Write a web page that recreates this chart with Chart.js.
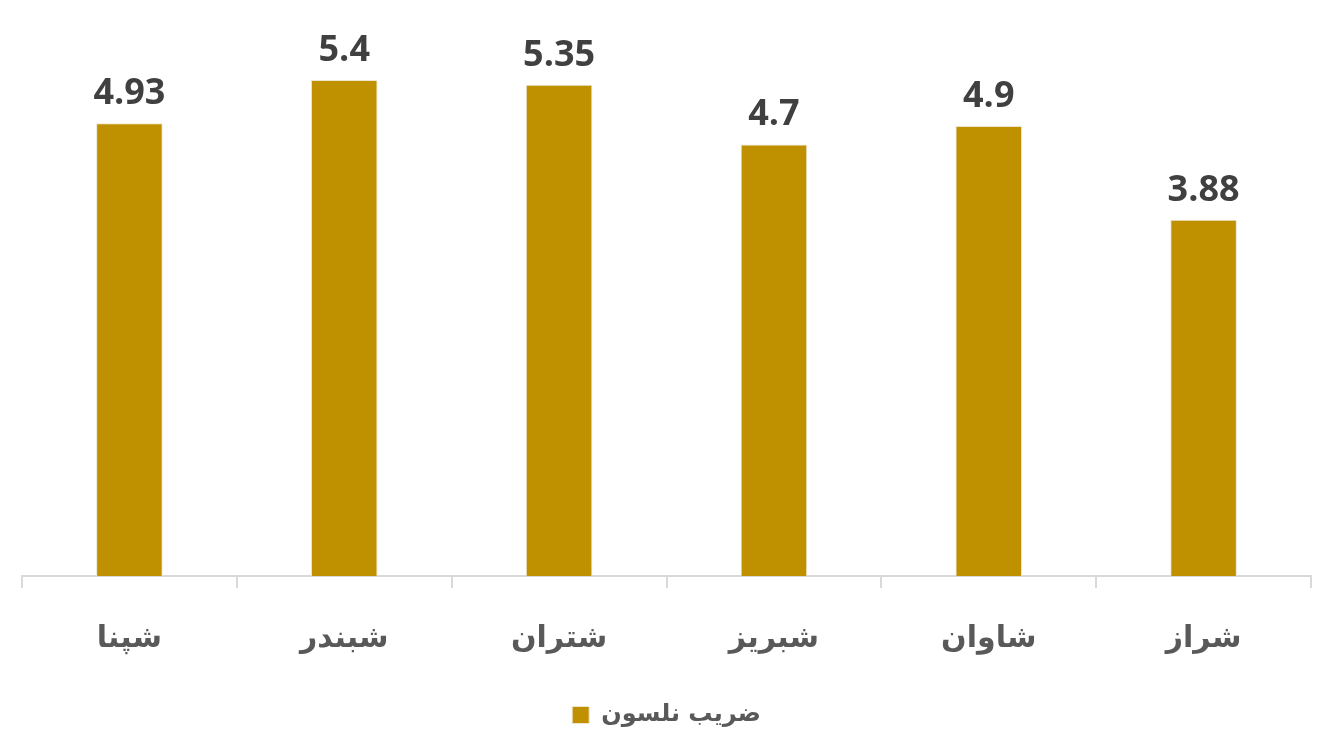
<!DOCTYPE html>
<html>
<head>
<meta charset="utf-8">
<script src="https://cdn.jsdelivr.net/npm/chart.js@4"></script>
<style>
  html, body { margin: 0; padding: 0; background: #fff; }
  #wrap { width: 1333px; height: 745px; }
</style>
</head>
<body>
<div id="wrap"><canvas id="nelsonChart"></canvas></div>
<script>
// chart data
const cities = ['شپنا', 'شبندر', 'شتران', 'شبریز', 'شاوان', 'شراز'];
const nelsonValues = [4.93, 5.4, 5.35, 4.7, 4.9, 3.88];
const seriesName = 'ضریب نلسون';

// draws the value above each bar
const valueLabels = {
    id: 'valueLabels',
    afterDatasetsDraw(chart) {
        const c = chart.ctx;
        const meta = chart.getDatasetMeta(0);
        c.save();
        c.font = 'bold 36px "Open Sans"';
        c.fillStyle = '#404040';
        c.textAlign = 'center';
        c.textBaseline = 'alphabetic';
        meta.data.forEach((bar, i) => {
            c.fillText(String(nelsonValues[i]), bar.x, bar.y - 19);
        });
        c.restore();
    }
};

const ctx = document.getElementById('nelsonChart').getContext('2d');
const nelsonChart = new Chart(ctx, {
    type: 'bar',
    data: {
        labels: cities,
        datasets: [{
            label: seriesName,
            data: nelsonValues,
            backgroundColor: '#BF9000',
            borderColor: '#EFE6D2',
            borderWidth: 1,
            barPercentage: 0.62,
            categoryPercentage: 0.5
        }]
    },
    options: {
        responsive: true,
        maintainAspectRatio: false,
        animation: false,
        layout: { padding: { top: 25, left: 22, right: 22, bottom: 8 } },
        scales: {
            x: {
                offset: true,
                grid: {
                    offset: true,
                    drawOnChartArea: false,
                    tickLength: 12,
                    color: '#D9D9D9',
                    lineWidth: 2
                },
                border: { color: '#D9D9D9', width: 2 },
                ticks: {
                    color: '#595959',
                    font: { family: '"DejaVu Sans"', size: 30, weight: 'bold' },
                    padding: 33
                },
                afterFit(scale) {
                    scale.height -= 1;
                }
            },
            y: {
                display: false,
                min: 0,
                max: 6
            }
        },
        plugins: {
            legend: {
                position: 'bottom',
                labels: {
                    color: '#595959',
                    font: { family: '"DejaVu Sans"', size: 24, weight: 'bold' },
                    boxWidth: 17,
                    boxHeight: 17,
                    padding: 14
                }
            },
            tooltip: { enabled: false }
        }
    },
    plugins: [valueLabels]
});
</script>
</body>
</html>
